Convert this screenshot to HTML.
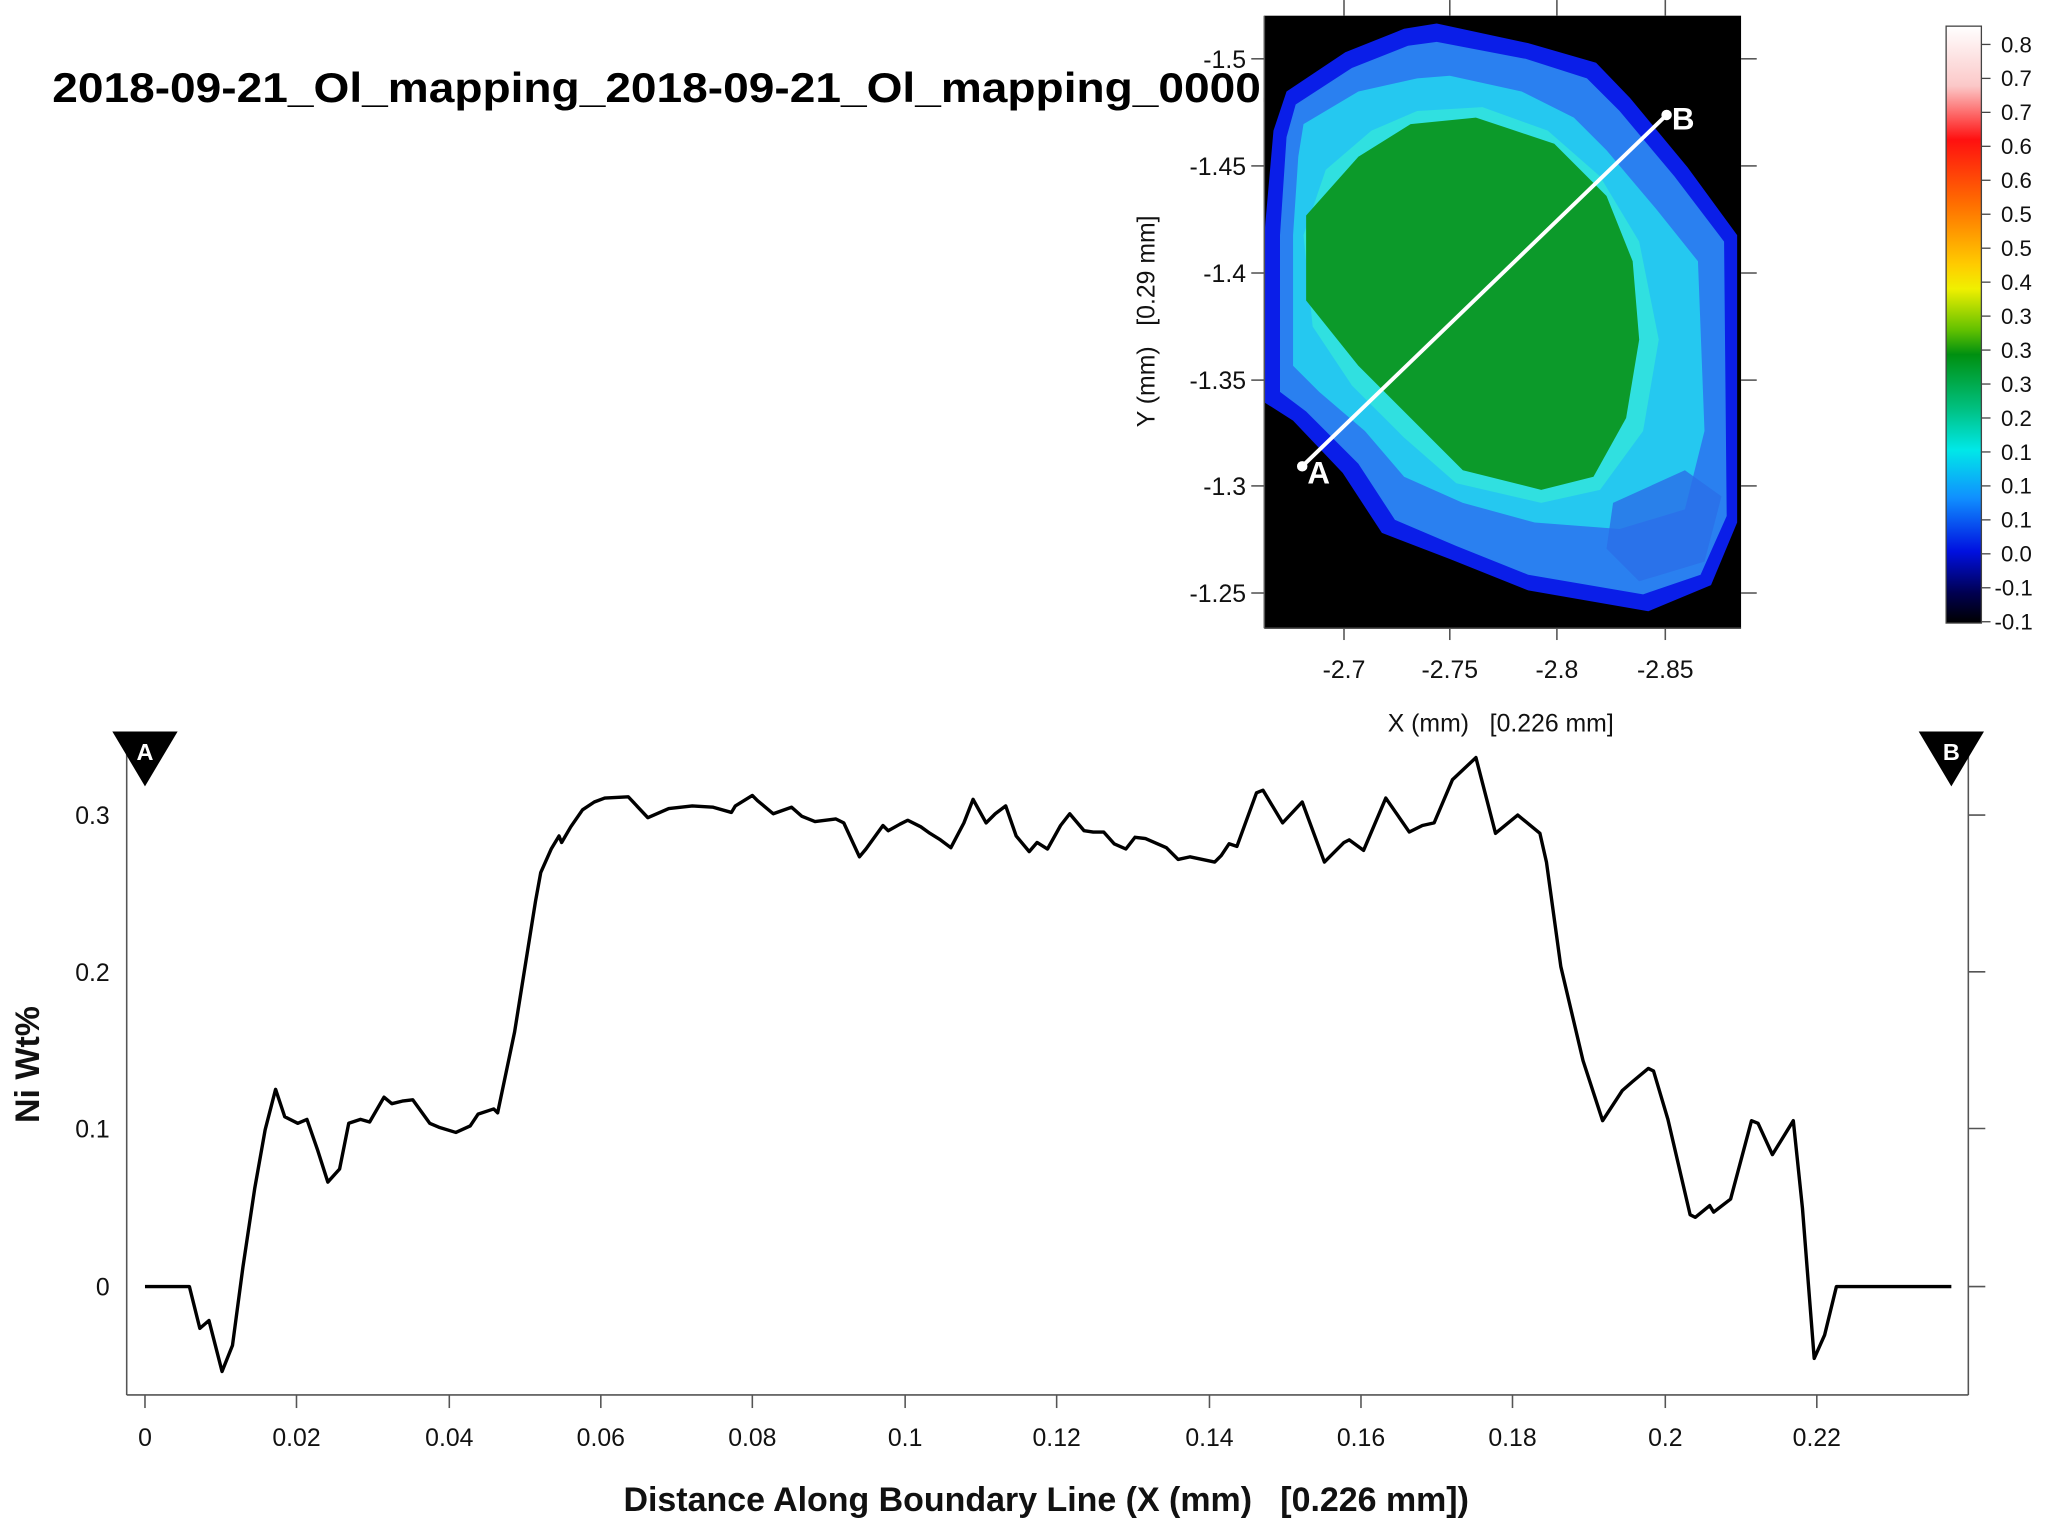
<!DOCTYPE html>
<html><head><meta charset="utf-8"><style>
html,body{margin:0;padding:0;background:#fff;}
svg{display:block;}
text{font-family:"Liberation Sans",sans-serif;}
</style></head><body>
<svg width="2048" height="1523" viewBox="0 0 1568 1166" xmlns="http://www.w3.org/2000/svg">
<defs>
<linearGradient id="cb" x1="0" y1="0" x2="0" y2="1">
<stop offset="0" stop-color="#ffffff"/>
<stop offset="0.1" stop-color="#fbc8c8"/>
<stop offset="0.19" stop-color="#ff1010"/>
<stop offset="0.3" stop-color="#ff7000"/>
<stop offset="0.4" stop-color="#ffcc00"/>
<stop offset="0.44" stop-color="#f0f000"/>
<stop offset="0.51" stop-color="#60c000"/>
<stop offset="0.55" stop-color="#009010"/>
<stop offset="0.64" stop-color="#00c080"/>
<stop offset="0.71" stop-color="#00e8e8"/>
<stop offset="0.79" stop-color="#1090ff"/>
<stop offset="0.88" stop-color="#0010e0"/>
<stop offset="0.95" stop-color="#000050"/>
<stop offset="1" stop-color="#000000"/>
</linearGradient>
</defs>
<text x="40" y="78" font-size="32" font-weight="bold" fill="#000" textLength="945" lengthAdjust="spacingAndGlyphs">2018-09-21_Ol_mapping_2018-09-21_Ol_mapping_00001</text>
<!-- map -->
<rect x="968" y="12" width="365" height="469" fill="#000"/>
<polygon points="985,70 1030,40 1075,22 1100,18 1170,33 1222,48 1248,75 1292,128 1330,180 1330,400 1310,448 1262,468 1170,452 1110,428 1058,408 1028,362 990,322 968,308 968,180 975,100" fill="#0a1ee8"/>
<polygon points="992,80 1035,52 1078,35 1100,32 1168,45 1215,60 1240,85 1282,135 1320,185 1322,395 1302,440 1258,455 1170,440 1115,418 1068,398 1040,355 1000,315 980,300 980,180 985,105" fill="#2a80f0"/>
<polygon points="998,95 1040,70 1085,60 1110,58 1165,70 1205,90 1230,115 1268,160 1300,200 1305,330 1290,390 1240,405 1175,400 1120,385 1075,365 1045,330 1010,300 990,280 990,180 994,120" fill="#25c8f0"/>
<polygon points="1015,130 1050,100 1085,85 1135,82 1185,100 1225,135 1255,185 1270,260 1258,330 1225,375 1180,385 1115,370 1075,335 1035,295 1005,250 998,180" fill="#30e0e0"/>
<polygon points="1000,165 1040,120 1080,95 1130,90 1190,110 1230,150 1250,200 1255,260 1245,320 1220,365 1180,375 1120,360 1080,320 1040,280 1000,230" fill="#0c9a2a"/>
<polygon points="1235,385 1290,360 1318,380 1305,430 1255,445 1230,420" fill="#2a6ee8" opacity="0.8"/>
<line x1="997" y1="357" x2="1276" y2="88" stroke="#fff" stroke-width="3"/>
<circle cx="997" cy="357" r="4" fill="#fff"/><circle cx="1276" cy="88" r="4" fill="#fff"/>
<text x="1001" y="370" font-size="24" font-weight="bold" fill="#fff">A</text>
<text x="1280" y="99" font-size="24" font-weight="bold" fill="#fff">B</text>
<g stroke="#555" stroke-width="1.2">
<line x1="968" y1="481" x2="1333" y2="481"/><line x1="968" y1="12" x2="968" y2="481"/>
<line x1="1029" y1="0" x2="1029" y2="12"/><line x1="1110" y1="0" x2="1110" y2="12"/><line x1="1192" y1="0" x2="1192" y2="12"/><line x1="1275" y1="0" x2="1275" y2="12"/>
<line x1="1029" y1="481" x2="1029" y2="490"/><line x1="1110" y1="481" x2="1110" y2="490"/><line x1="1192" y1="481" x2="1192" y2="490"/><line x1="1275" y1="481" x2="1275" y2="490"/>
<line x1="958" y1="45" x2="968" y2="45"/><line x1="958" y1="127" x2="968" y2="127"/><line x1="958" y1="209" x2="968" y2="209"/><line x1="958" y1="291" x2="968" y2="291"/><line x1="958" y1="372" x2="968" y2="372"/><line x1="958" y1="454" x2="968" y2="454"/>
<line x1="1333" y1="45" x2="1345" y2="45"/><line x1="1333" y1="127" x2="1345" y2="127"/><line x1="1333" y1="209" x2="1345" y2="209"/><line x1="1333" y1="291" x2="1345" y2="291"/><line x1="1333" y1="372" x2="1345" y2="372"/><line x1="1333" y1="454" x2="1345" y2="454"/>
</g>
<g font-size="19" fill="#111" text-anchor="end">
<text x="954" y="52">-1.5</text><text x="954" y="134">-1.45</text><text x="954" y="216">-1.4</text><text x="954" y="298">-1.35</text><text x="954" y="379">-1.3</text><text x="954" y="461">-1.25</text>
</g>
<g font-size="19" fill="#111" text-anchor="middle">
<text x="1029" y="519">-2.7</text><text x="1110" y="519">-2.75</text><text x="1192" y="519">-2.8</text><text x="1275" y="519">-2.85</text>
<text x="1149" y="560" xml:space="preserve">X (mm)   [0.226 mm]</text>
</g>
<text transform="translate(884,246) rotate(-90)" font-size="19" fill="#111" text-anchor="middle" xml:space="preserve">Y (mm)   [0.29 mm]</text>
<!-- colorbar -->
<rect x="1490" y="20" width="27" height="457" fill="url(#cb)" stroke="#444" stroke-width="1"/>
<g stroke="#444" stroke-width="1">
<line x1="1517" y1="34" x2="1524" y2="34"/><line x1="1517" y1="60" x2="1524" y2="60"/><line x1="1517" y1="86" x2="1524" y2="86"/><line x1="1517" y1="112" x2="1524" y2="112"/><line x1="1517" y1="138" x2="1524" y2="138"/><line x1="1517" y1="164" x2="1524" y2="164"/><line x1="1517" y1="190" x2="1524" y2="190"/><line x1="1517" y1="216" x2="1524" y2="216"/><line x1="1517" y1="242" x2="1524" y2="242"/><line x1="1517" y1="268" x2="1524" y2="268"/><line x1="1517" y1="294" x2="1524" y2="294"/><line x1="1517" y1="320" x2="1524" y2="320"/><line x1="1517" y1="346" x2="1524" y2="346"/><line x1="1517" y1="372" x2="1524" y2="372"/><line x1="1517" y1="398" x2="1524" y2="398"/><line x1="1517" y1="424" x2="1524" y2="424"/><line x1="1517" y1="450" x2="1524" y2="450"/><line x1="1517" y1="476" x2="1524" y2="476"/>
</g>
<g font-size="17" fill="#111">
<text x="1532" y="40">0.8</text><text x="1532" y="66">0.7</text><text x="1532" y="92">0.7</text><text x="1532" y="118">0.6</text><text x="1532" y="144">0.6</text><text x="1532" y="170">0.5</text><text x="1532" y="196">0.5</text><text x="1532" y="222">0.4</text><text x="1532" y="248">0.3</text><text x="1532" y="274">0.3</text><text x="1532" y="300">0.3</text><text x="1532" y="326">0.2</text><text x="1532" y="352">0.1</text><text x="1532" y="378">0.1</text><text x="1532" y="404">0.1</text><text x="1532" y="430">0.0</text><text x="1527" y="456">-0.1</text><text x="1527" y="482">-0.1</text>
</g>
<!-- line plot -->
<g stroke="#555" stroke-width="1.2">
<line x1="97" y1="1068" x2="1507" y2="1068"/>
<line x1="97" y1="575" x2="97" y2="1068"/>
<line x1="1507" y1="575" x2="1507" y2="1068"/>
<line x1="1507" y1="624" x2="1520" y2="624"/><line x1="1507" y1="744" x2="1520" y2="744"/><line x1="1507" y1="864" x2="1520" y2="864"/><line x1="1507" y1="985" x2="1520" y2="985"/>
<line x1="111" y1="1068" x2="111" y2="1078"/><line x1="227" y1="1068" x2="227" y2="1078"/><line x1="344" y1="1068" x2="344" y2="1078"/><line x1="460" y1="1068" x2="460" y2="1078"/><line x1="576" y1="1068" x2="576" y2="1078"/><line x1="693" y1="1068" x2="693" y2="1078"/><line x1="809" y1="1068" x2="809" y2="1078"/><line x1="926" y1="1068" x2="926" y2="1078"/><line x1="1042" y1="1068" x2="1042" y2="1078"/><line x1="1158" y1="1068" x2="1158" y2="1078"/><line x1="1275" y1="1068" x2="1275" y2="1078"/><line x1="1391" y1="1068" x2="1391" y2="1078"/>
</g>
<g font-size="19" fill="#111" text-anchor="end">
<text x="84" y="631">0.3</text><text x="84" y="751">0.2</text><text x="84" y="871">0.1</text><text x="84" y="992">0</text>
</g>
<g font-size="19" fill="#111" text-anchor="middle">
<text x="111" y="1107">0</text><text x="227" y="1107">0.02</text><text x="344" y="1107">0.04</text><text x="460" y="1107">0.06</text><text x="576" y="1107">0.08</text><text x="693" y="1107">0.1</text><text x="809" y="1107">0.12</text><text x="926" y="1107">0.14</text><text x="1042" y="1107">0.16</text><text x="1158" y="1107">0.18</text><text x="1275" y="1107">0.2</text><text x="1391" y="1107">0.22</text>
</g>
<text x="801" y="1157" font-size="26" font-weight="bold" fill="#111" text-anchor="middle" xml:space="preserve">Distance Along Boundary Line (X (mm)   [0.226 mm])</text>
<text transform="translate(30,815) rotate(-90)" font-size="26" font-weight="bold" fill="#111" text-anchor="middle">Ni Wt%</text>
<polygon points="86,560 136,560 111,602" fill="#000"/>
<text x="111" y="582" font-size="18" font-weight="bold" fill="#fff" text-anchor="middle">A</text>
<polygon points="1469,560 1519,560 1494,602" fill="#000"/>
<text x="1494" y="582" font-size="18" font-weight="bold" fill="#fff" text-anchor="middle">B</text>
<polyline fill="none" stroke="#000" stroke-width="2.6" stroke-linejoin="round" points="111,985 145,985 153,1017 160,1011 170,1050 178,1030 186,970 195,910 203,865 211,834 218,855 228,860 235,857 243,880 251,905 260,895 267,860 276,857 283,859 294,840 300,845 308,843 316,842 329,860 336,863 349,867 360,862 366,853 378,849 381,852 394,790 402,740 410,690 414,668 422,650 428,640 430,645 437,633 446,620 455,614 463,611 481,610 496,626 512,619 530,617 546,618 560,622 563,617 576,609 580,613 592,623 606,618 614,625 624,629 640,627 646,630 658,656 663,650 676,632 680,636 689,631 695,628 705,633 712,638 720,643 728,649 738,630 745,612 755,630 762,623 770,617 778,640 788,652 794,645 802,650 812,632 819,623 830,636 837,637 845,637 853,646 862,650 869,641 877,642 893,649 902,658 911,656 930,660 935,655 941,646 947,648 962,607 967,605 982,630 997,614 1014,660 1029,645 1033,643 1044,651 1061,611 1079,637 1089,632 1098,630 1112,597 1130,580 1145,638 1162,624 1179,638 1184,660 1195,740 1212,812 1227,858 1242,835 1250,828 1262,818 1266,820 1277,857 1294,930 1298,932 1309,923 1312,928 1325,918 1341,858 1346,860 1357,884 1373,858 1380,925 1389,1040 1397,1022 1406,985 1494,985"/>
</svg>
</body></html>
